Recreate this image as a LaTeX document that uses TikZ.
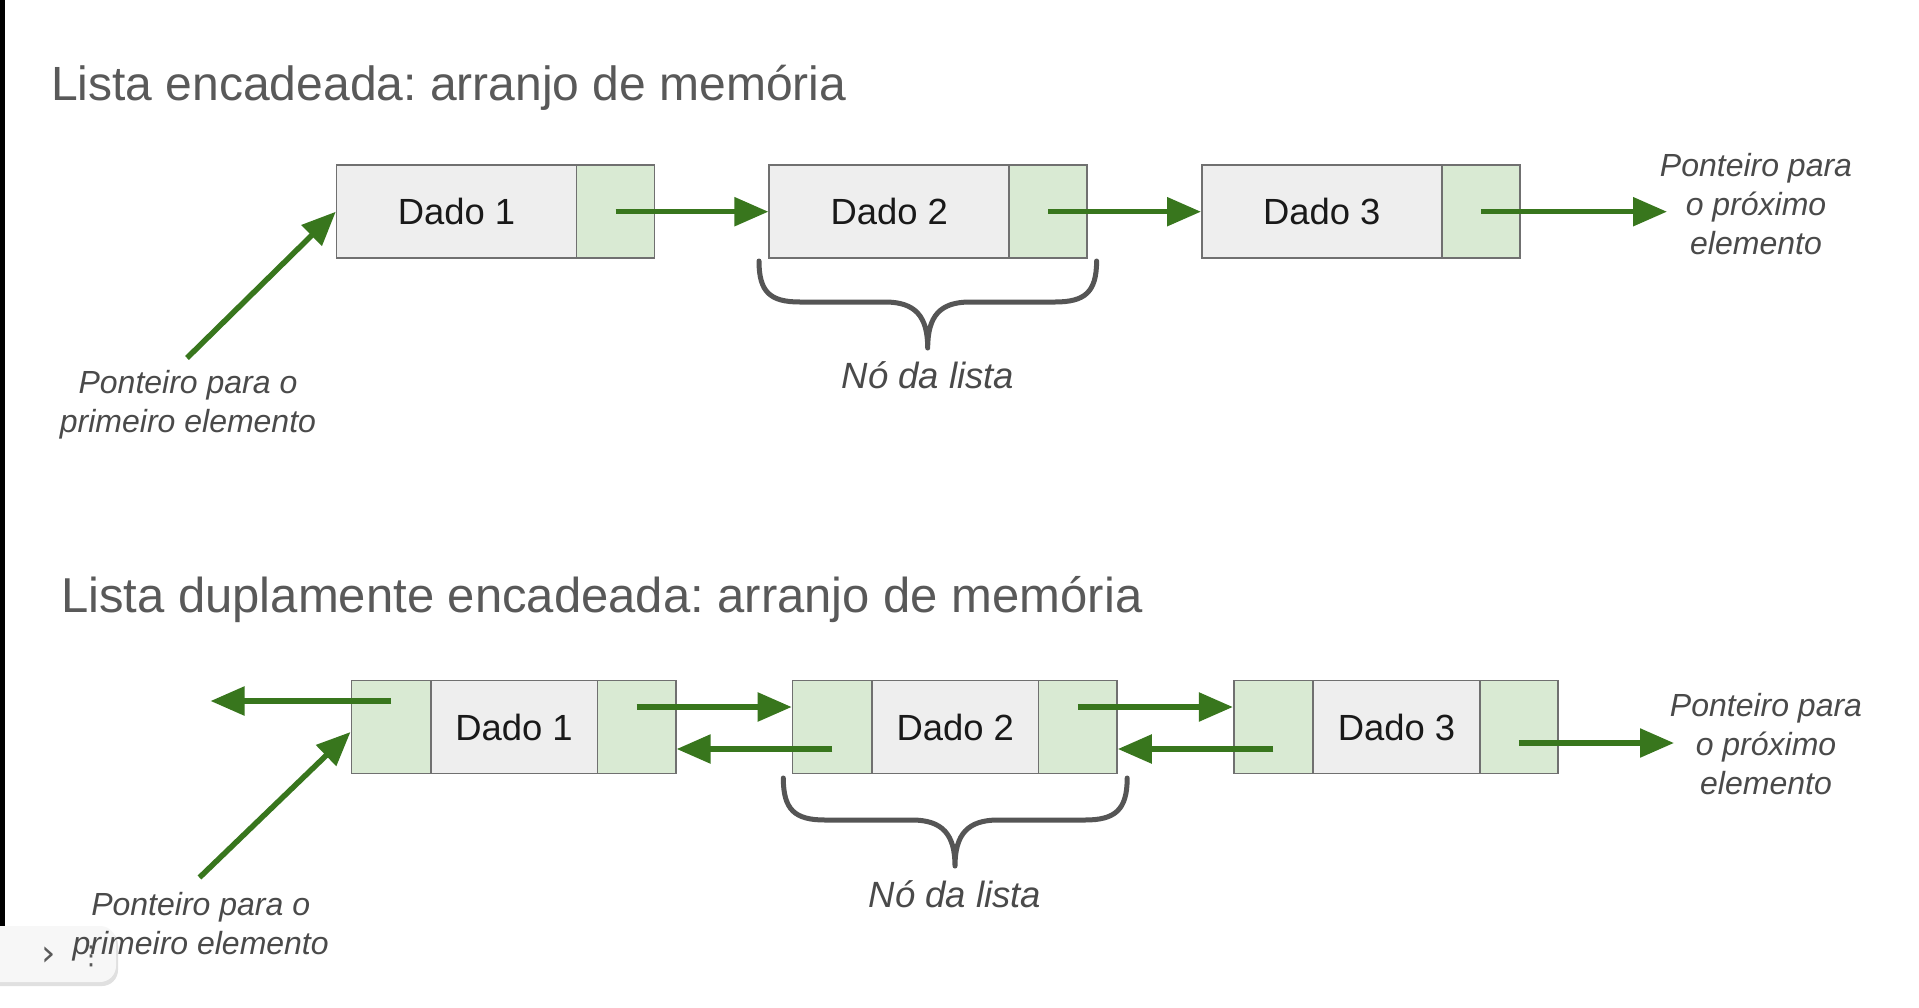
\documentclass[tikz,border=0pt]{standalone}
\usepackage{fontspec}
\setmainfont{Liberation Sans}
\newfontfamily\dejavu{DejaVu Sans}
\usetikzlibrary{arrows.meta,calc}
\frenchspacing
\definecolor{arrgreen}{HTML}{38761D}
\definecolor{ptrfill}{HTML}{D9EAD3}
\definecolor{datafill}{HTML}{EEEEEE}
\definecolor{boxline}{HTML}{707070}
\definecolor{titlegray}{HTML}{595959}
\definecolor{labelgray}{HTML}{4A4A4A}
\definecolor{bracegray}{HTML}{555555}
\tikzset{
  cell/.style={draw=boxline, line width=1.6pt, inner sep=0pt, minimum height=93pt,
    font=\fontsize{36.4}{40}\selectfont, text=black!90},
  datacell/.style={cell, fill=datafill},
  ptrcell/.style={cell, fill=ptrfill},
  arr/.style={draw=arrgreen, line width=5.5pt, -{Triangle[length=34pt,width=28pt]}},
  titletext/.style={inner sep=0pt, anchor=base west, text=titlegray, font=\fontsize{49}{56}\selectfont},
  labeltext/.style={inner sep=0pt, align=center, text=labelgray, font=\fontsize{32}{39}\selectfont\itshape},
  nodelabel/.style={inner sep=0pt, text=labelgray, font=\fontsize{36.5}{42}\selectfont\itshape},
  bracepath/.style={draw=bracegray, line width=5pt, line cap=round, line join=round},
}
\begin{document}
\begin{tikzpicture}[x=1pt,y=-1pt]
\useasboundingbox (0,0) rectangle (1919,1007);
\fill[white] (0,0) rectangle (1919,1007);
% screen artefacts: black edge and collapsed toolbar pill
\fill[black] (0,0) rectangle (5,927);
\fill[black!12, rounded corners=16pt] (-20,929) rectangle (118,986);
\fill[white!97!black, rounded corners=16pt] (-20,926) rectangle (116,982);
\node[inner sep=0pt, text=black!65, font=\dejavu\fontsize{36}{36}\selectfont] (chev) at (49,956) {›};
\node[inner sep=0pt, text=black!65, font=\dejavu\fontsize{26}{26}\selectfont] (dots) at (91,956) {⋮};

% ---------------- Top: singly linked list ----------------
\node[titletext, font=\fontsize{48}{56}\selectfont] (t1) at (51,100) {Lista encadeada: arranjo de memória};

\node[datacell, minimum width=240pt] (d1) at (456.6,211.7) {Dado 1};
\node[ptrcell, minimum width=78pt] (p1) at (615.6,211.7) {};
\node[datacell, minimum width=240pt] (d2) at (889.2,211.7) {Dado 2};
\node[ptrcell, minimum width=78pt] (p2) at (1048.2,211.7) {};
\node[datacell, minimum width=240pt] (d3) at (1321.8,211.7) {Dado 3};
\node[ptrcell, minimum width=78pt] (p3) at (1480.8,211.7) {};

\coordinate (outT) at (1667,211.7);
\coordinate (startT) at (187,358);
\draw[arr] (p1.center) -- (d2.west);
\draw[arr] (p2.center) -- (d3.west);
\draw[arr] (p3.center) -- (outT);
\draw[arr] (startT) -- (d1.west);

\node[labeltext] (firstT) at (188,405) {Ponteiro para o\\primeiro elemento};
\node[labeltext] (nextT) at (1756,204) {Ponteiro para\\o próximo\\elemento};

\path[bracepath] (759,261) .. controls (759,292) and (770,302) .. (800,302) -- (885,302)
  .. controls (915,302) and (927.7,316) .. (927.7,348)
  .. controls (927.7,316) and (940,302) .. (970,302) -- (1055,302)
  .. controls (1085,302) and (1096.6,292) .. (1096.6,261);
\node[nodelabel] (nodeT) at (928,375) {Nó da lista};

% ---------------- Bottom: doubly linked list ----------------
\node[titletext] (t2) at (61,612) {Lista duplamente encadeada: arranjo de memória};

\begin{scope}[every node/.append style={minimum height=95pt}]
\node[ptrcell, minimum width=79.5pt] (lp1) at (391.05,727) {};
\node[datacell, minimum width=166.5pt] (dd1) at (514.05,727) {Dado 1};
\node[ptrcell, minimum width=78.5pt] (rp1) at (636.55,727) {};
\node[ptrcell, minimum width=79.5pt] (lp2) at (832.25,727) {};
\node[datacell, minimum width=166.5pt] (dd2) at (955.25,727) {Dado 2};
\node[ptrcell, minimum width=78.5pt] (rp2) at (1077.75,727) {};
\node[ptrcell, minimum width=79.5pt] (lp3) at (1273.45,727) {};
\node[datacell, minimum width=166.5pt] (dd3) at (1396.45,727) {Dado 3};
\node[ptrcell, minimum width=78.5pt] (rp3) at (1518.95,727) {};
\end{scope}

\coordinate (outL) at (210.5,701);
\coordinate (outR) at (1674,743);
\coordinate (startB) at (199.5,877.5);
\draw[arr] ([yshift=26pt]lp1.center) -- (outL);
\draw[arr] (startB) -- ([yshift=-5pt]lp1.west);
\draw[arr] ([yshift=20pt]rp1.center) -- ([yshift=20pt]lp2.west);
\draw[arr] ([yshift=-22pt]lp2.center) -- ([yshift=-22pt]rp1.east);
\draw[arr] ([yshift=20pt]rp2.center) -- ([yshift=20pt]lp3.west);
\draw[arr] ([yshift=-22pt]lp3.center) -- ([yshift=-22pt]rp2.east);
\draw[arr] ([yshift=-16pt]rp3.center) -- (outR);

\node[labeltext] (firstB) at (200.7,926.5) {Ponteiro para o\\primeiro elemento};
\node[labeltext] (nextB) at (1766,744.5) {Ponteiro para\\o próximo\\elemento};

\path[bracepath] (783.3,778) .. controls (783.3,810) and (795,820) .. (825,820) -- (912,820)
  .. controls (942,820) and (955,834) .. (955,866)
  .. controls (955,834) and (968,820) .. (998,820) -- (1085,820)
  .. controls (1115,820) and (1127.2,810) .. (1127.2,778);
\node[nodelabel] (nodeB) at (955,894.5) {Nó da lista};
\end{tikzpicture}
\end{document}
